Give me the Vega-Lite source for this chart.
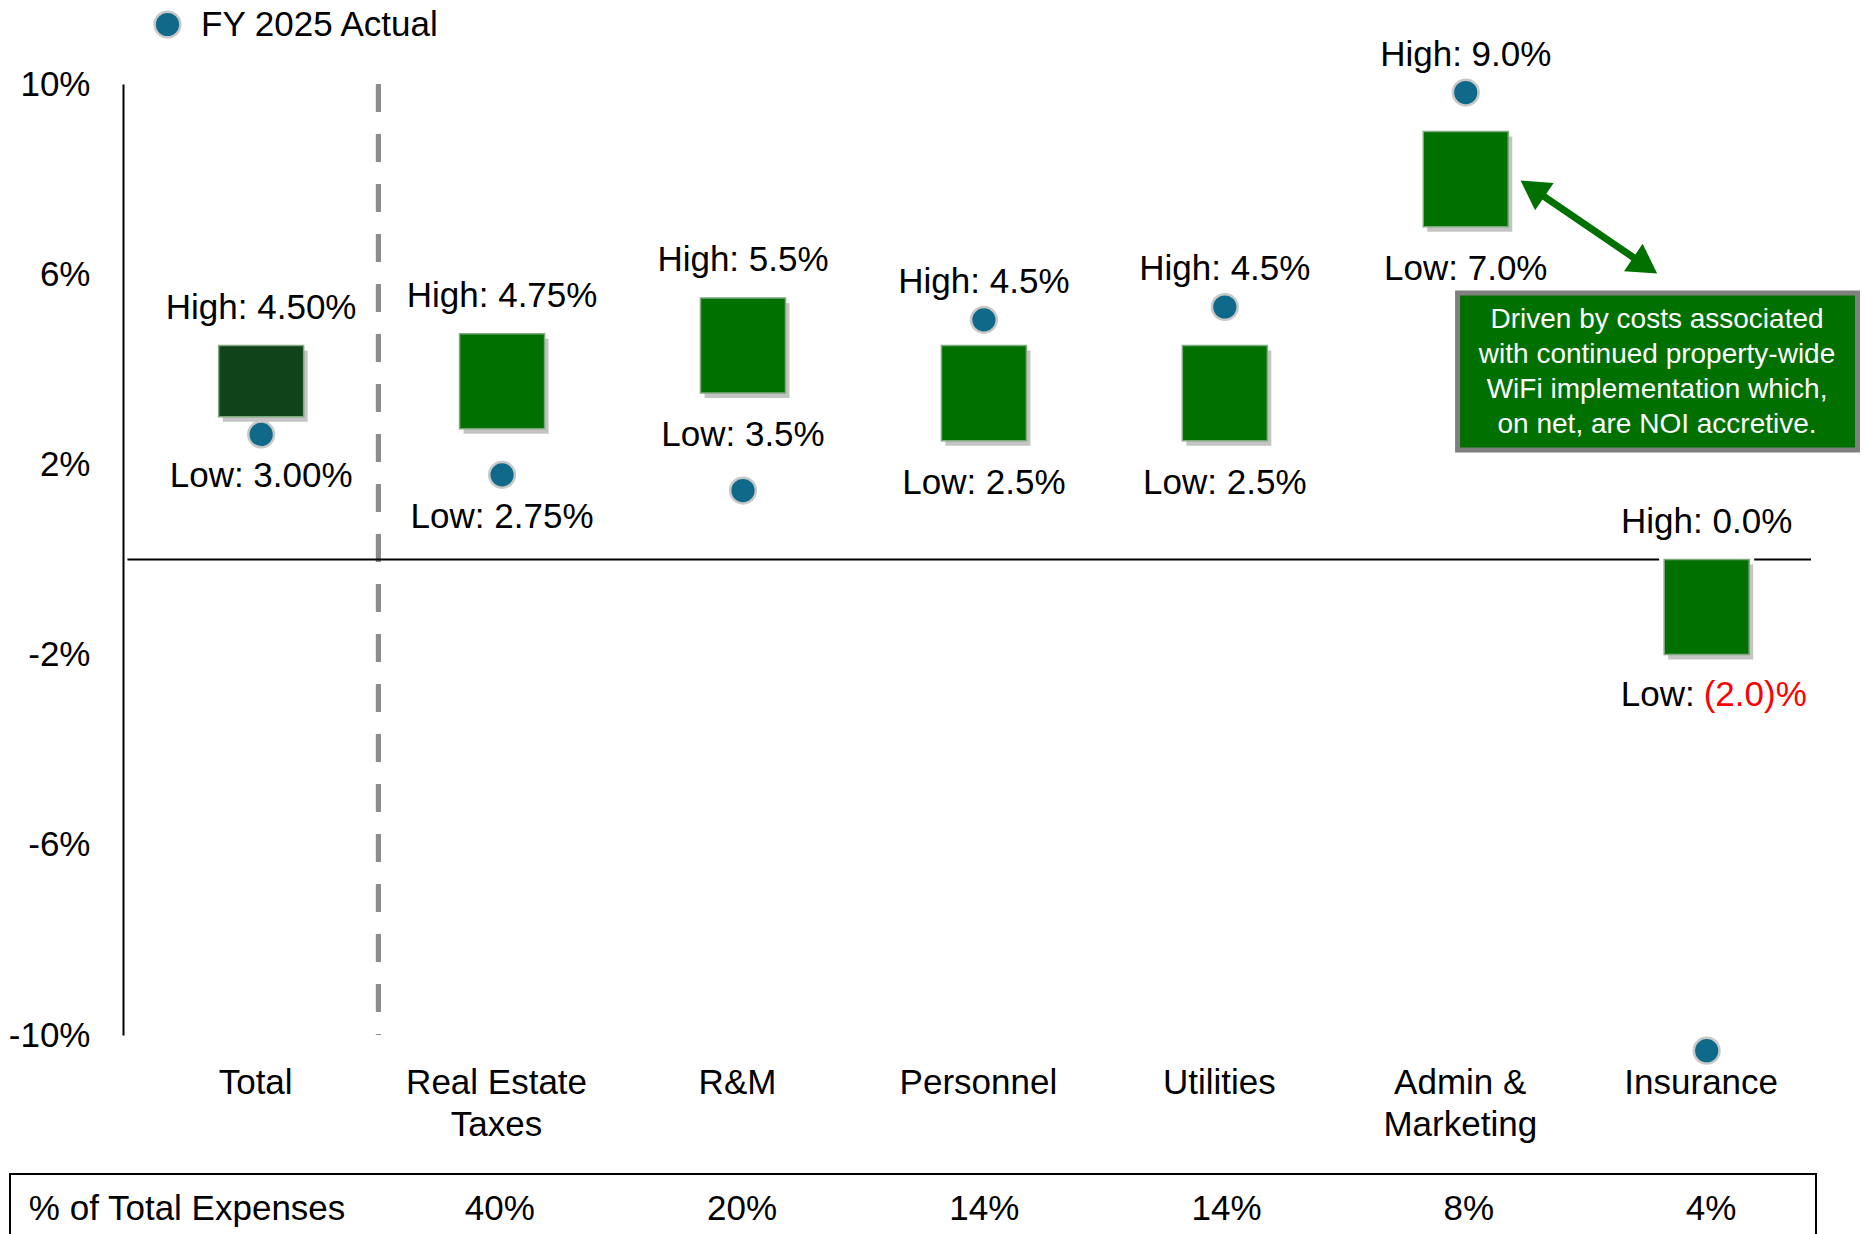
{
  "$schema": "https://vega.github.io/schema/vega-lite/v6.json",
  "background": "white",
  "padding": {"left": 8, "top": 7, "right": 0, "bottom": 0},
  "bounds": "flush",
  "spacing": 139,
  "config": {
    "font": "Liberation Sans",
    "view": {"stroke": null},
    "text": {"font": "Liberation Sans", "fontSize": 35, "color": "black"},
    "axis": {"labelFont": "Liberation Sans", "labelColor": "black", "labelLimit": 0},
    "legend": {"labelFont": "Liberation Sans", "labelColor": "black", "labelLimit": 0}
  },
  "datasets": {
    "lines": [
      {"category": "Total", "idx": 0, "low": 3.0, "high": 4.5, "actual": 2.63, "hiLabel": "High: 4.50%", "loLabel": "Low: 3.00%", "loValue": "3.00%", "share": null},
      {"category": "Real Estate Taxes", "idx": 1, "low": 2.75, "high": 4.75, "actual": 1.78, "hiLabel": "High: 4.75%", "loLabel": "Low: 2.75%", "loValue": "2.75%", "share": "40%"},
      {"category": "R&M", "idx": 2, "low": 3.5, "high": 5.5, "actual": 1.45, "hiLabel": "High: 5.5%", "loLabel": "Low: 3.5%", "loValue": "3.5%", "share": "20%"},
      {"category": "Personnel", "idx": 3, "low": 2.5, "high": 4.5, "actual": 5.04, "hiLabel": "High: 4.5%", "loLabel": "Low: 2.5%", "loValue": "2.5%", "share": "14%"},
      {"category": "Utilities", "idx": 4, "low": 2.5, "high": 4.5, "actual": 5.31, "hiLabel": "High: 4.5%", "loLabel": "Low: 2.5%", "loValue": "2.5%", "share": "14%"},
      {"category": "Admin & Marketing", "idx": 5, "low": 7.0, "high": 9.0, "actual": 9.82, "hiLabel": "High: 9.0%", "loLabel": "Low: 7.0%", "loValue": "7.0%", "share": "8%"},
      {"category": "Insurance", "idx": 6, "low": -2.0, "high": 0.0, "actual": -10.33, "hiLabel": "High: 0.0%", "loLabel": "Low: (2.0)%", "loValue": "(2.0)%", "share": "4%"}
    ]
  },
  "vconcat": [
    {
      "width": 1806,
      "height": 951,
      "layer": [
        {
          "data": {"name": "lines"},
          "mark": {"type": "rule", "color": "#8c8c8c", "strokeWidth": 5, "strokeDash": [28, 22]},
          "encoding": {
            "x": {"datum": 0.487, "type": "quantitative", "scale": {"domain": [-1.0217, 6.433], "nice": false, "zero": false},
              "axis": {"values": [0, 1, 2, 3, 4, 5, 6], "title": null, "grid": false, "ticks": false, "domain": false,
                "labelExpr": "['Total', ['Real Estate', 'Taxes'], 'R&M', 'Personnel', 'Utilities', ['Admin &', 'Marketing'], 'Insurance'][datum.value]",
                "labelFontSize": 35, "labelLineHeight": 42, "labelPadding": 30, "labelOffset": -6, "labelLimit": 0,
                "labelFlush": false, "labelOverlap": false, "labelBound": false}}
          }
        },
        {
          "data": {"values": [{}]},
          "mark": {"type": "rule", "color": "black", "strokeWidth": 2},
          "encoding": {
            "x": {"datum": -0.555, "type": "quantitative"},
            "x2": {"datum": 6.433},
            "y": {"datum": 0, "type": "quantitative", "scale": {"domain": [-10, 10], "nice": false, "zero": false},
              "axis": {"orient": "left", "offset": -113, "values": [-10, -6, -2, 2, 6, 10], "labelExpr": "datum.value + '%'",
                "title": null, "grid": false, "ticks": false, "domainColor": "black", "domainWidth": 2,
                "labelPadding": 33, "labelFontSize": 35, "labelFlush": false, "labelOverlap": false, "labelBound": false}}
          }
        },
        {
          "data": {"name": "lines"},
          "mark": {"type": "bar", "size": 85, "fill": "white", "stroke": "white", "strokeWidth": 10},
          "encoding": {
            "x": {"field": "idx", "type": "quantitative"},
            "y": {"field": "low", "type": "quantitative"},
            "y2": {"field": "high"}
          }
        },
        {
          "data": {"name": "lines"},
          "mark": {"type": "bar", "size": 85, "color": "#c4c4c4", "xOffset": 4, "yOffset": 5, "y2Offset": 5},
          "encoding": {
            "x": {"field": "idx", "type": "quantitative"},
            "y": {"field": "low", "type": "quantitative"},
            "y2": {"field": "high"}
          }
        },
        {
          "data": {"name": "lines"},
          "mark": {"type": "bar", "size": 85, "stroke": "#7fa87f", "strokeWidth": 1.5},
          "encoding": {
            "x": {"field": "idx", "type": "quantitative"},
            "y": {"field": "low", "type": "quantitative"},
            "y2": {"field": "high"},
            "color": {"condition": {"test": "datum.category == 'Total'", "value": "#10431a"}, "value": "#007000"}
          }
        },
        {
          "data": {"name": "lines"},
          "mark": {"type": "circle", "size": 660, "stroke": "#c8c8c8", "strokeWidth": 2.5, "opacity": 1},
          "encoding": {
            "x": {"field": "idx", "type": "quantitative"},
            "y": {"field": "actual", "type": "quantitative"},
            "color": {"datum": "FY 2025 Actual", "type": "nominal", "scale": {"range": ["#0f6a8a"]},
              "legend": {"orient": "none", "legendX": 140, "legendY": -77, "title": null, "symbolType": "circle",
                "symbolSize": 660, "symbolStrokeColor": "#c8c8c8", "symbolStrokeWidth": 2.5,
                "labelFontSize": 35, "labelOffset": 16, "labelLimit": 0, "padding": 0}}
          }
        },
        {
          "data": {"name": "lines"},
          "transform": [{"calculate": "max(datum.high, datum.actual)", "as": "hiAnchor"}],
          "mark": {"type": "text", "align": "center", "baseline": "middle", "dy": -38, "fontSize": 35},
          "encoding": {
            "x": {"field": "idx", "type": "quantitative"},
            "y": {"field": "hiAnchor", "type": "quantitative"},
            "text": {"field": "hiLabel"}
          }
        },
        {
          "data": {"name": "lines"},
          "transform": [
            {"filter": "datum.low >= 0"},
            {"calculate": "datum.actual < datum.low && datum.low - datum.actual < 1.5 ? datum.actual : datum.low", "as": "loAnchor"}
          ],
          "mark": {"type": "text", "align": "center", "baseline": "middle", "dy": 42, "fontSize": 35},
          "encoding": {
            "x": {"field": "idx", "type": "quantitative"},
            "y": {"field": "loAnchor", "type": "quantitative"},
            "text": {"field": "loLabel"}
          }
        },
        {
          "data": {"name": "lines"},
          "transform": [{"filter": "datum.low < 0"}],
          "mark": {"type": "text", "align": "right", "baseline": "middle", "dy": 40, "dx": -12, "fontSize": 35},
          "encoding": {
            "x": {"field": "idx", "type": "quantitative"},
            "y": {"field": "low", "type": "quantitative"},
            "text": {"value": "Low:"}
          }
        },
        {
          "data": {"name": "lines"},
          "transform": [{"filter": "datum.low < 0"}],
          "mark": {"type": "text", "align": "left", "baseline": "middle", "dy": 40, "dx": -3, "fontSize": 35, "color": "#ff0000"},
          "encoding": {
            "x": {"field": "idx", "type": "quantitative"},
            "y": {"field": "low", "type": "quantitative"},
            "text": {"field": "loValue"}
          }
        },
        {
          "data": {"values": [{}]},
          "mark": {"type": "rect", "fill": "#007000", "stroke": "#7f7f7f", "strokeWidth": 5},
          "encoding": {
            "x": {"datum": 4.966, "type": "quantitative"},
            "x2": {"datum": 6.626},
            "y": {"datum": 5.607, "type": "quantitative"},
            "y2": {"datum": 2.304}
          }
        },
        {
          "data": {"values": [{}]},
          "mark": {"type": "text", "align": "center", "baseline": "middle", "fontSize": 28, "lineHeight": 35, "color": "white"},
          "encoding": {
            "x": {"datum": 5.794, "type": "quantitative"},
            "y": {"datum": 5.039, "type": "quantitative"},
            "text": {"value": ["Driven by costs associated", "with continued property-wide", "WiFi implementation which,", "on net, are NOI accretive."]}
          }
        },
        {
          "data": {"values": [{}]},
          "mark": {"type": "rule", "color": "#007000", "strokeWidth": 7},
          "encoding": {
            "x": {"datum": 5.277, "type": "quantitative"},
            "x2": {"datum": 5.745},
            "y": {"datum": 7.801, "type": "quantitative"},
            "y2": {"datum": 6.183}
          }
        },
        {
          "data": {"values": [{}]},
          "mark": {"type": "point", "shape": "triangle-up", "filled": true, "size": 1100, "color": "#007000", "opacity": 1, "angle": 304.1},
          "encoding": {
            "x": {"datum": 5.277, "type": "quantitative"},
            "y": {"datum": 7.801, "type": "quantitative"}
          }
        },
        {
          "data": {"values": [{}]},
          "mark": {"type": "point", "shape": "triangle-up", "filled": true, "size": 1100, "color": "#007000", "opacity": 1, "angle": 124.1},
          "encoding": {
            "x": {"datum": 5.745, "type": "quantitative"},
            "y": {"datum": 6.183, "type": "quantitative"}
          }
        }
      ]
    },
    {
      "width": 1806,
      "height": 70,
      "view": {"stroke": "black", "strokeWidth": 2},
      "layer": [
        {
          "data": {"name": "lines"},
          "transform": [{"filter": "datum.share != null"}],
          "mark": {"type": "text", "align": "center", "baseline": "middle", "fontSize": 35},
          "encoding": {
            "x": {"field": "idx", "type": "quantitative", "scale": {"domain": [-1.0217, 6.433], "nice": false, "zero": false}, "axis": null},
            "text": {"field": "share"}
          }
        },
        {
          "data": {"values": [{"label": "% of Total Expenses"}]},
          "mark": {"type": "text", "align": "left", "baseline": "middle", "fontSize": 35},
          "encoding": {
            "x": {"datum": -0.944, "type": "quantitative", "axis": null},
            "text": {"field": "label"}
          }
        }
      ]
    }
  ]
}
